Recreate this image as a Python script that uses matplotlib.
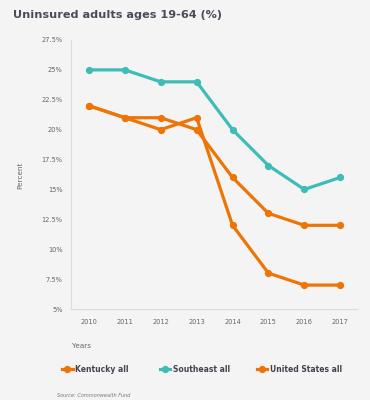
import matplotlib
matplotlib.use("Agg")
import matplotlib.pyplot as plt
from matplotlib.lines import Line2D

years = [2010, 2011, 2012, 2013, 2014, 2015, 2016, 2017]
kentucky = [22, 21, 20, 21, 12, 8, 7, 7]
southeast = [25, 25, 24, 24, 20, 17, 15, 16]
united_states = [22, 21, 21, 20, 16, 13, 12, 12]
yticks = [5, 7.5, 10, 12.5, 15, 17.5, 20, 22.5, 25, 27.5]
ytick_labels = ["5%", "7.5%", "10%", "12.5%", "15%", "17.5%", "20%", "22.5%", "25%", "27.5%"]

orange = "#ee7405"
teal = "#3dbcb8"
bg = "#f4f4f4"

fig = plt.figure(figsize=(3.7, 4.0), dpi=100, facecolor=bg)
ax = fig.add_axes([0.192, 0.2275, 0.773, 0.6725], facecolor=bg)

ax.plot(years, kentucky, color=orange, lw=2.3, marker="o", ms=4.2, zorder=3)
ax.plot(years, southeast, color=teal, lw=2.3, marker="o", ms=4.2, zorder=3)
ax.plot(years, united_states, color=orange, lw=2.3, marker="o", ms=4.2, zorder=3)

ax.set_xlim(2009.5, 2017.47)
ax.set_ylim(5, 27.5)
ax.set_xticks(years)
ax.set_xticklabels([str(y) for y in years], fontsize=4.8, color="#666666")
ax.set_yticks(yticks)
ax.set_yticklabels(ytick_labels, fontsize=4.8, color="#666666")
ax.tick_params(length=0, pad=6)
ax.tick_params(axis="x", pad=7)
for s in ["top", "right"]:
    ax.spines[s].set_visible(False)
ax.spines["left"].set_color("#dddddd")
ax.spines["bottom"].set_color("#d8dde6")
ax.spines["left"].set_linewidth(0.8)
ax.spines["bottom"].set_linewidth(0.8)

fig.text(0.034, 0.962, "Uninsured adults ages 19-64 (%)", fontsize=8.1, fontweight="bold",
         color="#4a4b5a", ha="left", va="center")
fig.text(0.055, 0.5625, "Percent", fontsize=5.2, color="#666666", rotation=90, ha="center", va="center")
fig.text(0.195, 0.134, "Years", fontsize=5.2, color="#666666", ha="left", va="center")
fig.text(0.155, 0.012, "Source: Commonwealth Fund", fontsize=3.6, color="#777777", style="italic",
         ha="left", va="center")

legend_items = [("Kentucky all", orange, 0.168), ("Southeast all", teal, 0.432), ("United States all", orange, 0.694)]
for label, col, xpos in legend_items:
    fig.add_artist(Line2D([xpos, xpos + 0.028], [0.0775, 0.0775], color=col, lw=2.3,
                          transform=fig.transFigure))
    fig.add_artist(Line2D([xpos + 0.014], [0.0775], color=col, marker="o", ms=4.2,
                          transform=fig.transFigure))
    fig.text(xpos + 0.036, 0.0775, label, fontsize=5.5, fontweight="bold", color="#444450",
             ha="left", va="center")

fig.savefig("out.png", dpi=100, facecolor=bg)
